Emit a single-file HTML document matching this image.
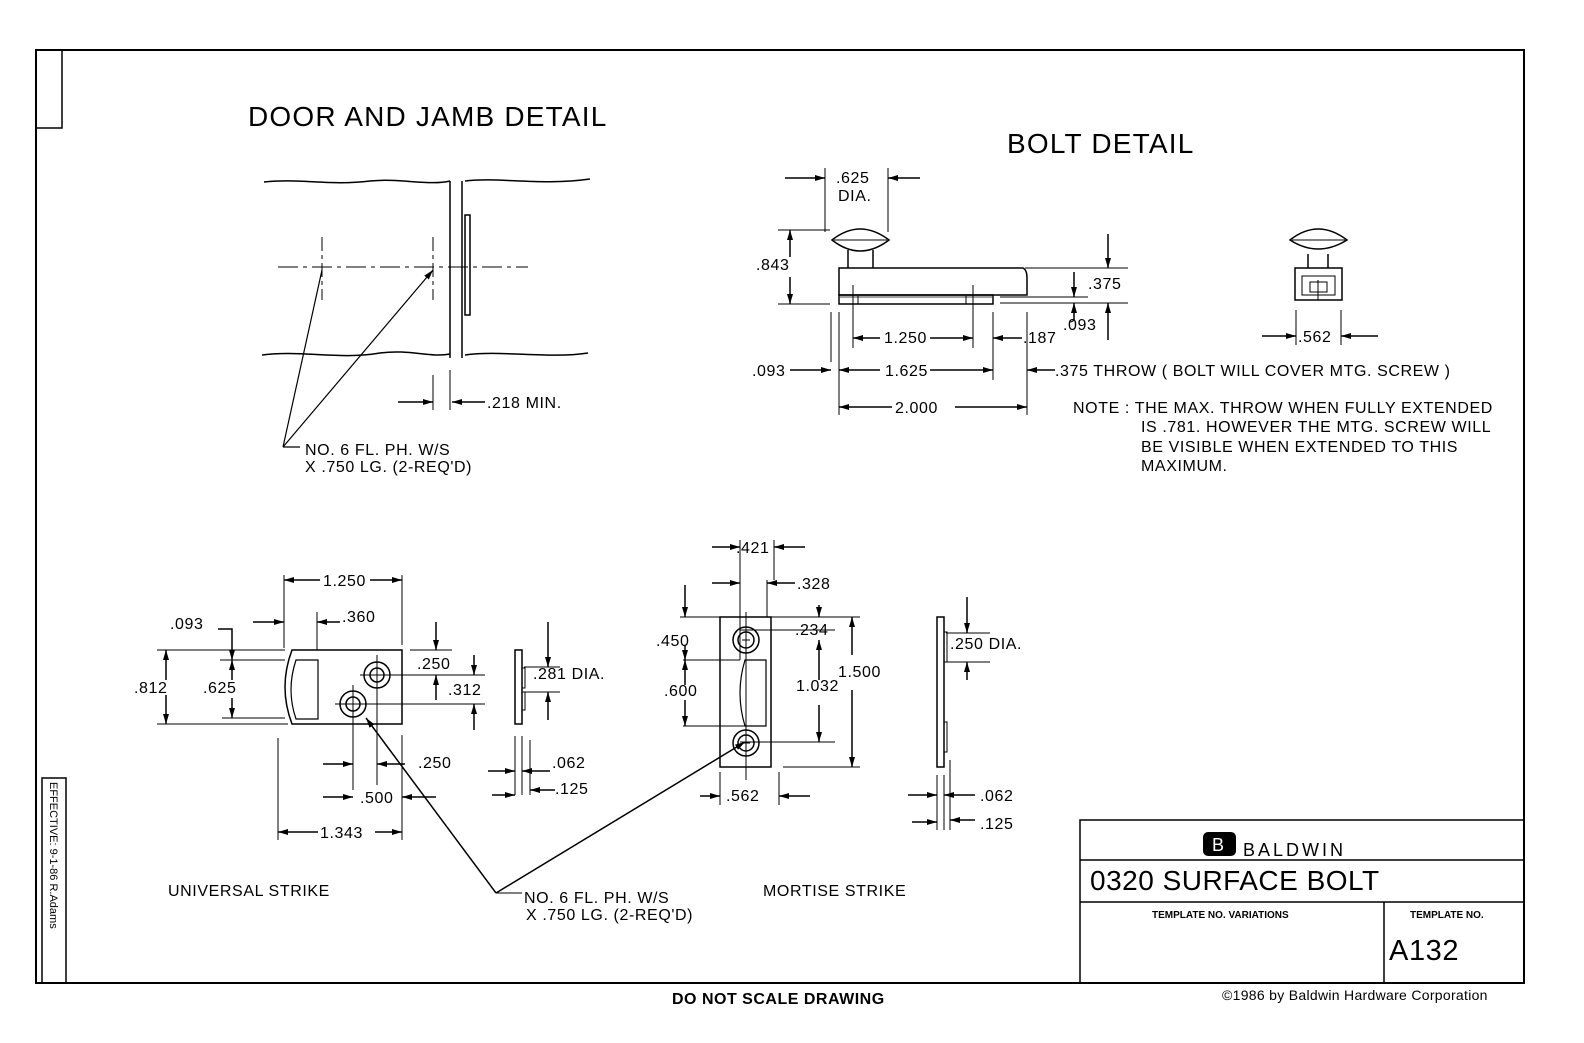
<!DOCTYPE html>
<html><head><meta charset="utf-8"><style>
html,body{margin:0;padding:0;background:#fff}
svg{display:block}
text{font-family:"Liberation Sans",sans-serif;fill:#000}
</style></head><body>
<svg width="1584" height="1043" viewBox="0 0 1584 1043" xmlns="http://www.w3.org/2000/svg">
<defs>
<marker id="a" viewBox="0 0 10 6" refX="10" refY="3" markerWidth="10" markerHeight="6" orient="auto-start-reverse" markerUnits="userSpaceOnUse"><path d="M0,0L10,3L0,6z"/></marker>
</defs>
<g fill="none" stroke="#000" stroke-width="1.5">
<rect x="36" y="50" width="1488" height="933" stroke-width="2"/>
<path d="M36,128H62V50"/>
<rect x="42" y="778" width="24" height="205"/>
<rect x="1080" y="820" width="444" height="163"/>
<path d="M1080,860H1524M1080,902H1524M1384,902V983"/>

<path d="M264,182 C300,178 330,186 370,181 C400,178 430,186 450,181"/>
<path d="M465,181 C500,177 540,186 590,179"/>
<path d="M262,355 C300,350 340,360 380,353 C410,349 430,358 450,354"/>
<path d="M465,355 C500,350 550,359 588,353"/>
<path d="M450,181V358M462,181V358"/>
<rect x="465" y="215" width="5" height="100"/>
<path d="M278,267H528" stroke-dasharray="20,5,4,5" stroke-width="1"/>
<path d="M322,237V300M433,237V300" stroke-dasharray="14,4,4,4" stroke-width="1"/>
<path d="M283,447L322,270M283,447L433,270" stroke-width="1.2" marker-end="url(#a)"/>
<path d="M283,447H300" stroke-width="1.2"/>
<path d="M433,375V410M450,370V410" stroke-width="1"/>
<path d="M398,402H433" marker-end="url(#a)"/>
<path d="M485,402H452" marker-end="url(#a)"/>

<path d="M832,240 Q860,218 889,240 Q860,262 832,240Z"/>
<path d="M834,240H887" stroke-width="1"/>
<path d="M848,250V268M873,250V268"/>
<path d="M839,268H1023Q1027,270 1027,278V295H839Z"/>
<rect x="839" y="295" width="154" height="9"/>
<path d="M840,297H992" stroke-width="0.8"/>
<path d="M853,285V315M973,285V315M858,296V304M966,296V304" stroke-width="1"/>
<path d="M1000,297H1088M1000,303H1128" stroke-width="1"/>
<path d="M1025,268H1128" stroke-width="1"/>
<path d="M825,168V232M888,168V232" stroke-width="1"/>
<path d="M785,178H825" marker-end="url(#a)"/>
<path d="M920,178H888" marker-end="url(#a)"/>
<path d="M778,230H830M778,304H830" stroke-width="1"/>
<path d="M790,257V230" marker-end="url(#a)"/>
<path d="M790,277V304" marker-end="url(#a)"/>
<path d="M1108,234V268" marker-end="url(#a)"/>
<path d="M1108,340V303" marker-end="url(#a)"/>
<path d="M1074,272V297" marker-end="url(#a)"/>
<path d="M1074,320V303" marker-end="url(#a)"/>
<path d="M1074,320Q1072,322 1070,322" stroke-width="1"/>
<path d="M831,312V362M839,312V415M993,312V380M1027,312V415M853,315V348M973,315V348" stroke-width="1"/>
<path d="M880,338H853" marker-end="url(#a)"/>
<path d="M930,338H973" marker-end="url(#a)"/>
<path d="M1022,338H993" marker-end="url(#a)"/>
<path d="M790,370H831" marker-end="url(#a)"/>
<path d="M880,370H839" marker-end="url(#a)"/>
<path d="M930,370H993" marker-end="url(#a)"/>
<path d="M1055,370H1027" marker-end="url(#a)"/>
<path d="M892,407H839" marker-end="url(#a)"/>
<path d="M955,407H1027" marker-end="url(#a)"/>
<path d="M1290,240 Q1318,218 1347,240 Q1318,258 1290,240Z"/>
<path d="M1292,240H1345" stroke-width="1"/>
<path d="M1308,254V268M1328,254V268"/>
<path d="M1295,268H1342V300H1295Z"/>
<path d="M1302,276H1335V295H1302Z" stroke-width="1"/>
<path d="M1310,282H1327V292H1310Z" stroke-width="1"/>
<path d="M1318,280V300" stroke-width="1"/>
<path d="M1296,310V345M1341,310V345" stroke-width="1"/>
<path d="M1262,336H1296" marker-end="url(#a)"/>
<path d="M1378,336H1341" marker-end="url(#a)"/>

<path d="M292,650H402V724H292Q278,687 292,650Z"/>
<path d="M296,660H318V719H296Q286,690 296,660Z" stroke-width="1.2"/>
<circle cx="377" cy="675" r="13"/><circle cx="377" cy="675" r="7"/>
<circle cx="353" cy="704" r="13"/><circle cx="353" cy="704" r="7"/>
<path d="M373,675h8M377,671v8M349,704h8M353,700v8" stroke-width="1"/>
<path d="M360,675H485M335,704H485M377,655V785M353,685V790" stroke-width="1"/>
<path d="M157,650H285M220,660H285M157,724H288M222,718H285" stroke-width="1"/>
<path d="M284,575V648M317,612V650M402,575V645M402,735V840M278,738V840" stroke-width="1"/>
<path d="M166,680V650" marker-end="url(#a)"/>
<path d="M166,695V724" marker-end="url(#a)"/>
<path d="M232,680V660" marker-end="url(#a)"/>
<path d="M232,698V718" marker-end="url(#a)"/>
<path d="M218,629H232V660" marker-end="url(#a)"/>
<path d="M320,580H284" marker-end="url(#a)"/>
<path d="M370,580H402" marker-end="url(#a)"/>
<path d="M253,622H284" marker-end="url(#a)"/>
<path d="M340,622H317" marker-end="url(#a)"/>
<path d="M410,650H452" stroke-width="1"/>
<path d="M436,622V650" marker-end="url(#a)"/>
<path d="M436,700V675" marker-end="url(#a)"/>
<path d="M474,655V675" marker-end="url(#a)"/>
<path d="M474,730V704" marker-end="url(#a)"/>
<path d="M323,764H353" marker-end="url(#a)"/>
<path d="M405,764H377" marker-end="url(#a)"/>
<path d="M323,797H353" marker-end="url(#a)"/>
<path d="M436,797H402" marker-end="url(#a)"/>
<path d="M318,832H278" marker-end="url(#a)"/>
<path d="M375,832H402" marker-end="url(#a)"/>
<path d="M496,893L366,718" marker-end="url(#a)"/>
<path d="M496,893H522" stroke-width="1"/>
<path d="M496,893L745,742" marker-end="url(#a)"/>
<rect x="515" y="650" width="7" height="74"/>
<path d="M522,668h3v20h-3M522,692h3v18h-3" stroke-width="1"/>
<path d="M524,667H560M524,692H560" stroke-width="1"/>
<path d="M548,622V667" marker-end="url(#a)"/>
<path d="M548,720V692" marker-end="url(#a)"/>
<path d="M515,736V795M522,736V795M530,740V795" stroke-width="1"/>
<path d="M488,771H515" marker-end="url(#a)"/>
<path d="M550,771H522" marker-end="url(#a)"/>
<path d="M492,795H515" marker-end="url(#a)"/>
<path d="M555,790H530" marker-end="url(#a)"/>

<rect x="720" y="617" width="51" height="150"/>
<path d="M745,660H766V726H745Q735,693 745,660Z" stroke-width="1.2"/>
<circle cx="746" cy="640" r="13"/><circle cx="746" cy="640" r="8"/>
<circle cx="746" cy="743" r="13"/><circle cx="746" cy="743" r="8"/>
<path d="M742,640h8M746,636v8M742,743h8M746,739v8" stroke-width="1"/>
<path d="M746,612V780M740,630H835M740,742H835M680,617H860M783,767H860M683,660H740M683,726H745" stroke-width="1"/>
<path d="M740,540V660M774,540V580M767,580V617M720,772V805M779,772V805" stroke-width="1"/>
<path d="M712,547H740" marker-end="url(#a)"/>
<path d="M805,547H774" marker-end="url(#a)"/>
<path d="M712,583H740" marker-end="url(#a)"/>
<path d="M795,583H767" marker-end="url(#a)"/>
<path d="M685,585V617" marker-end="url(#a)"/>
<path d="M685,645V660" marker-end="url(#a)"/>
<path d="M685,700V726" marker-end="url(#a)"/>
<path d="M685,685V660" marker-end="url(#a)"/>
<path d="M819,605V617" marker-end="url(#a)"/>
<path d="M819,680V640" marker-end="url(#a)"/>
<path d="M819,705V742" marker-end="url(#a)"/>
<path d="M852,655V617" marker-end="url(#a)"/>
<path d="M852,690V767" marker-end="url(#a)"/>
<path d="M700,796H720" marker-end="url(#a)"/>
<path d="M810,796H779" marker-end="url(#a)"/>
<rect x="937" y="617" width="7" height="150"/>
<path d="M944,632h3v30h-3M944,722h3v30h-3" stroke-width="1"/>
<path d="M946,633H990M946,662H990" stroke-width="1"/>
<path d="M967,597V633" marker-end="url(#a)"/>
<path d="M967,680V662" marker-end="url(#a)"/>
<path d="M937,775V830M944,775V830M950,760V830" stroke-width="1"/>
<path d="M908,795H937" marker-end="url(#a)"/>
<path d="M975,795H944" marker-end="url(#a)"/>
<path d="M912,822H937" marker-end="url(#a)"/>
<path d="M975,820H950" marker-end="url(#a)"/>
</g>

<g font-size="16" letter-spacing="0.6">
<text x="248" y="126" font-size="28" letter-spacing="1.2">DOOR  AND  JAMB  DETAIL</text>
<text x="1007" y="153" font-size="28" letter-spacing="1.2">BOLT  DETAIL</text>
<text x="487" y="408">.218 MIN.</text>
<text x="305" y="455">NO. 6 FL. PH. W/S</text>
<text x="305" y="472">X .750 LG. (2-REQ'D)</text>
<text x="836" y="183">.625</text>
<text x="838" y="201">DIA.</text>
<text x="756" y="270">.843</text>
<text x="1088" y="289">.375</text>
<text x="1063" y="330">.093</text>
<text x="884" y="343">1.250</text>
<text x="1023" y="343">.187</text>
<text x="752" y="376">.093</text>
<text x="885" y="376">1.625</text>
<text x="1055" y="376">.375 THROW ( BOLT  WILL  COVER  MTG. SCREW )</text>
<text x="895" y="413">2.000</text>
<text x="1298" y="342">.562</text>
<text x="1073" y="413">NOTE :  THE  MAX. THROW  WHEN  FULLY  EXTENDED</text>
<text x="1141" y="432">IS .781. HOWEVER  THE  MTG. SCREW  WILL</text>
<text x="1141" y="452">BE  VISIBLE  WHEN  EXTENDED  TO  THIS</text>
<text x="1141" y="471">MAXIMUM.</text>
<text x="323" y="586">1.250</text>
<text x="342" y="622">.360</text>
<text x="170" y="629">.093</text>
<text x="134" y="693">.812</text>
<text x="203" y="693">.625</text>
<text x="417" y="669">.250</text>
<text x="448" y="695">.312</text>
<text x="533" y="679">.281  DIA.</text>
<text x="418" y="768">.250</text>
<text x="360" y="803">.500</text>
<text x="320" y="838">1.343</text>
<text x="552" y="768">.062</text>
<text x="555" y="794">.125</text>
<text x="168" y="896">UNIVERSAL   STRIKE</text>
<text x="524" y="903">NO. 6 FL. PH. W/S</text>
<text x="526" y="920">X .750 LG. (2-REQ'D)</text>
<text x="736" y="553">.421</text>
<text x="797" y="589">.328</text>
<text x="795" y="635">.234</text>
<text x="656" y="646">.450</text>
<text x="664" y="696">.600</text>
<text x="796" y="691">1.032</text>
<text x="838" y="677">1.500</text>
<text x="726" y="801">.562</text>
<text x="763" y="896">MORTISE    STRIKE</text>
<text x="950" y="649">.250  DIA.</text>
<text x="980" y="801">.062</text>
<text x="980" y="829">.125</text>
<text x="672" y="1004" font-weight="bold" letter-spacing="0.5">DO NOT SCALE DRAWING</text>
<text x="1222" y="1000" font-size="14" letter-spacing="0.3">©1986 by Baldwin Hardware Corporation</text>
<text x="1090" y="890" font-size="28" letter-spacing="0.5">0320 SURFACE BOLT</text>
<text x="1152" y="918" font-size="10" font-weight="bold" letter-spacing="0">TEMPLATE NO. VARIATIONS</text>
<text x="1410" y="918" font-size="10" font-weight="bold" letter-spacing="0">TEMPLATE NO.</text>
<text x="1389" y="960" font-size="29">A132</text>
<text x="1243" y="856" font-size="18" font-family="Liberation Serif" letter-spacing="3">BALDWIN</text>
</g>
<rect x="1203" y="832" width="33" height="24" rx="5" fill="#000"/>
<text x="1212" y="851" font-size="18" font-family="Liberation Serif" style="fill:#fff">B</text>
<text transform="translate(50,782) rotate(90)" font-size="11">EFFECTIVE: 9-1-86  R.Adams</text>
</svg>
</body></html>
